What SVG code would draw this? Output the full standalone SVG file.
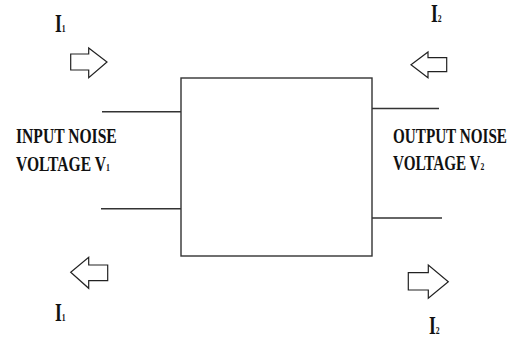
<svg xmlns="http://www.w3.org/2000/svg" width="520" height="339" viewBox="0 0 520 339">
<style>
.ln{stroke:#333;stroke-width:1.4;fill:none}
.ar{stroke:#222;stroke-width:1.2;fill:#fff}
text{font-family:"Liberation Serif","Times New Roman",serif;font-weight:bold;fill:#111}
.lb{font-size:22px}
.cur{font-size:25px}
.sub{font-size:11px}
</style>
<rect width="520" height="339" fill="#fff"/>
<g id="box"><rect class="ln" x="181" y="78" width="191" height="178"/></g>
<g id="connectors">
<line class="ln" x1="102" y1="111.7" x2="181" y2="111.7"/>
<line class="ln" x1="101" y1="208.7" x2="181" y2="208.7"/>
<line class="ln" x1="372" y1="108.5" x2="439" y2="108.5"/>
<line class="ln" x1="372" y1="218" x2="442" y2="218"/>
</g>
<g id="arrow-in-top"><polygon class="ar" points="70.7,54 88.7,54 88.7,48 107,62 88.7,77.7 88.7,70 70.7,70"/></g>
<g id="arrow-out-bottom-left"><polygon class="ar" points="107.7,265 88.7,265 88.7,257.3 70.7,272.3 88.7,288.3 88.7,280.7 107.7,280.7"/></g>
<g id="arrow-in-right"><polygon class="ar" points="446.7,57.7 428,57.7 428,52 411,64.7 428,77.7 428,71.7 446.7,71.7"/></g>
<g id="arrow-out-right"><polygon class="ar" points="408.3,272.7 428.3,272.7 428.3,265 448.3,281.7 428.3,298.3 428.3,290 408.3,290"/></g>
<g id="label-i1-top"><text class="cur" transform="translate(55,31.5) scale(0.7,1)">I<tspan class="sub">1</tspan></text></g>
<g id="label-i2-top"><text class="cur" transform="translate(431,22) scale(0.7,1)">I<tspan class="sub">2</tspan></text></g>
<g id="label-i1-bottom"><text class="cur" transform="translate(55,320.5) scale(0.7,1)">I<tspan class="sub">1</tspan></text></g>
<g id="label-i2-bottom"><text class="cur" transform="translate(429,333.5) scale(0.7,1)">I<tspan class="sub">2</tspan></text></g>
<g id="label-input">
<text class="lb" transform="translate(16,143) scale(0.71,1)">INPUT NOISE</text>
<text class="lb" transform="translate(16,171) scale(0.71,1)">VOLTAGE V<tspan class="sub">1</tspan></text>
</g>
<g id="label-output">
<text class="lb" transform="translate(393,143) scale(0.69,1)">OUTPUT NOISE</text>
<text class="lb" transform="translate(393,170) scale(0.69,1)">VOLTAGE V<tspan class="sub">2</tspan></text>
</g>
</svg>
